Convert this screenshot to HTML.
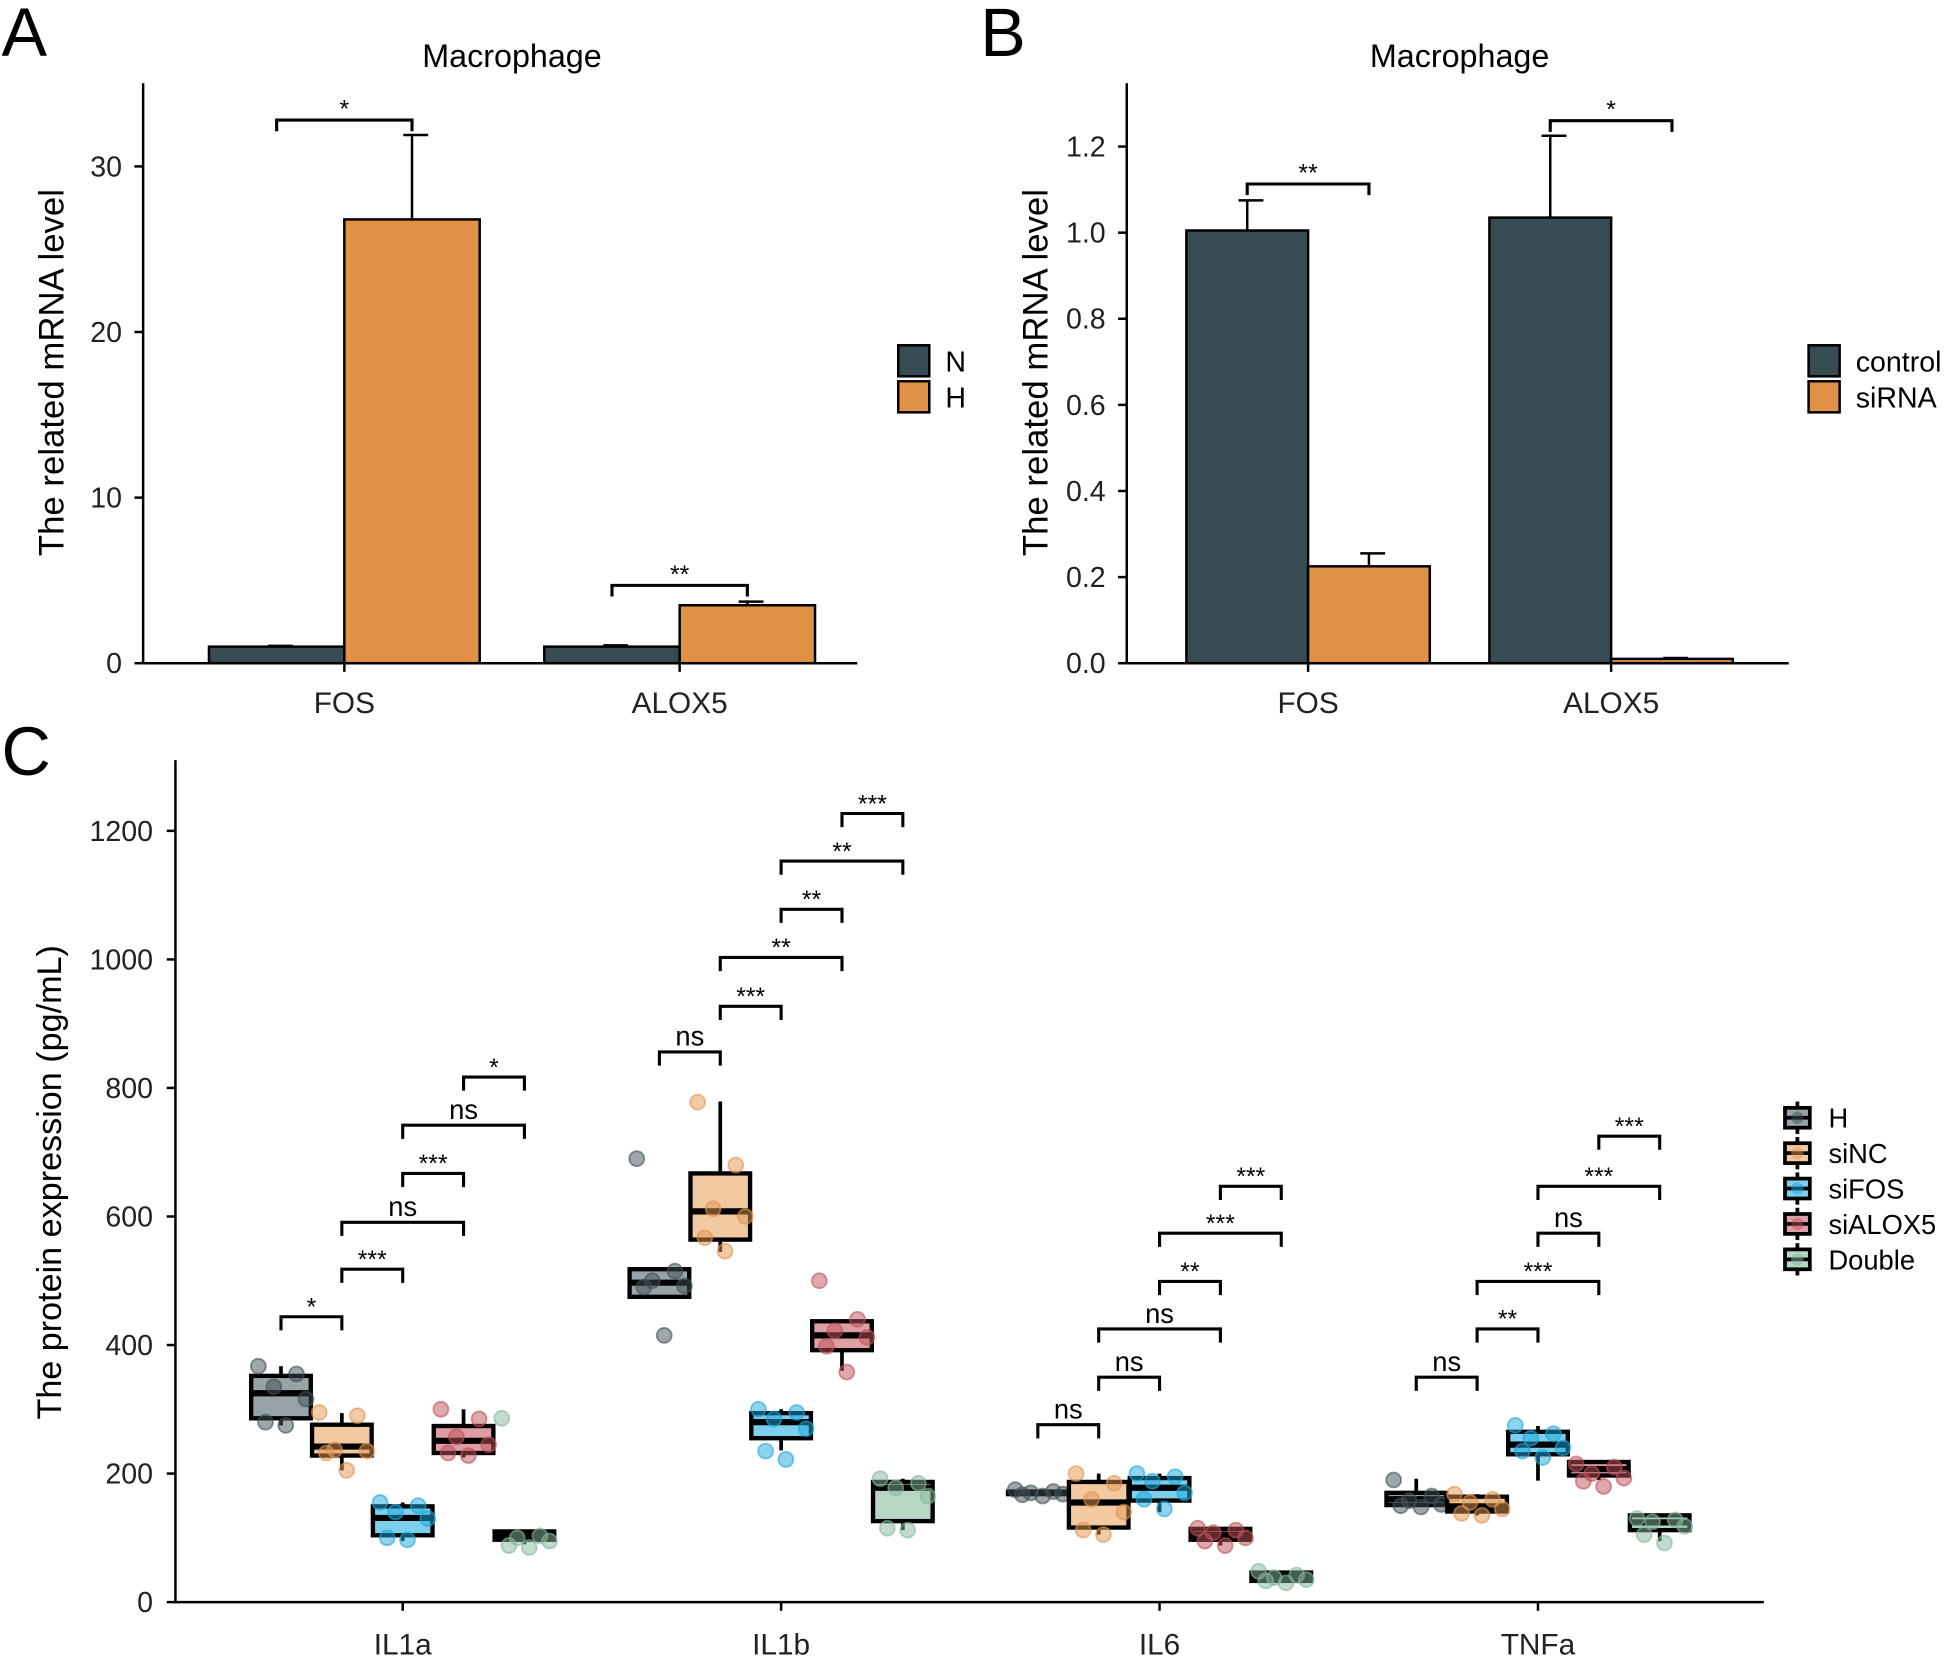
<!DOCTYPE html>
<html><head><meta charset="utf-8"><style>
html,body{margin:0;padding:0;background:#fff}
svg{display:block;font-family:"Liberation Sans",Arial,sans-serif}
</style></head><body>
<svg id="fig" width="1948" height="1658" viewBox="0 0 1568 1335" xmlns="http://www.w3.org/2000/svg">
<text x="1" y="45" font-size="55">A</text>
<text x="789" y="45" font-size="55">B</text>
<text x="1" y="624" font-size="55">C</text>
</svg>
<script>
const NS="http://www.w3.org/2000/svg";
const svg=document.getElementById('fig');
function el(tag,attrs,parent){const e=document.createElementNS(NS,tag);for(const k in attrs)e.setAttribute(k,attrs[k]);(parent||svg).appendChild(e);return e;}

// ---------- Panel A data ----------
const aCats=["FOS","ALOX5"];
const aSeries=["N","H"];
const aN=[1.0,1.0];
const aH=[26.8,3.5];
const aNerr=[1.05,1.08];
const aHerr=[31.9,3.72];
const aTicks=[0,10,20,30];
const aSig=[{c:0,y:32.8,l:"*"},{c:1,y:4.7,l:"**"}];
// ---------- Panel B data ----------
const bCats=["FOS","ALOX5"];
const bSeries=["control","siRNA"];
const bCtrl=[1.005,1.035];
const bSi=[0.225,0.01];
const bCtrlErr=[1.075,1.225];
const bSiErr=[0.255,0.012];
const bTicks=[0.0,0.2,0.4,0.6,0.8,1.0,1.2];
const bSig=[{c:0,y:1.113,l:"**"},{c:1,y:1.26,l:"*"}];
// ---------- Panel C data ----------
const cCats=["IL1a","IL1b","IL6","TNFa"];
const cGroups=["H","siNC","siFOS","siALOX5","Double"];
const cTicks=[0,200,400,600,800,1000,1200];
const cQ1=[[286,228,104,232,97],[475,564,255,392,126],[168,116,158,97,33],[151,141,230,197,112]];
const cMed=[[325,242,131,251,104],[497,608,280,415,178],[170,155,178,105,39],[160,149,245,207,124]];
const cQ3=[[352,276,149,274,110],[518,667,294,437,187],[172,187,193,114,46],[170,164,265,218,135]];
const cLo=[[275,205,95,225,90],[475,545,236,360,112],[166,105,140,88,30],[150,135,189,190,95]];
const cHi=[[367,294,155,300,110],[518,779,300,440,192],[175,200,200,115,48],[192,168,274,215,135]];
const cPts=[
 [[367,355,335,316,280,275],[295,290,237,235,232,205],[155,150,140,130,100,97],[300,285,257,245,232,228],[286,103,100,95,88,85]],
 [[690,515,500,492,490,415],[778,680,612,600,567,546],[300,295,285,270,235,222],[500,440,422,412,398,358],[192,185,178,165,115,112]],
 [[175,172,170,168,167,165],[200,185,160,140,112,105],[200,195,188,170,160,145],[115,112,108,100,95,88],[48,42,38,35,33,30]],
 [[190,165,158,152,150,148],[168,160,155,145,138,135],[275,262,255,240,235,225],[215,210,200,193,188,180],[130,128,125,118,105,92]]];
const cSig=[
 [[0,1,444,"*"],[1,2,518,"***"],[1,3,591,"ns"],[2,3,667,"***"],[2,4,742,"ns"],[3,4,817,"*"]],
 [[0,1,856,"ns"],[1,2,927,"***"],[1,3,1003,"**"],[2,3,1078,"**"],[2,4,1153,"**"],[3,4,1227,"***"]],
 [[0,1,276,"ns"],[1,2,350,"ns"],[1,3,425,"ns"],[2,3,499,"**"],[2,4,574,"***"],[3,4,647,"***"]],
 [[0,1,350,"ns"],[1,2,425,"**"],[1,3,499,"***"],[2,3,574,"ns"],[2,4,647,"***"],[3,4,725,"***"]]];

const dark="#374c52", orange="#e09145";

function barPanel(opt){
  const {x0,x1,y0,ytop,ymax,ticks,cats,v1,v2,e1,e2,sig,fmt,centers,bw,title,tx,legX,labels,key}=opt;
  const yS=v=>y0-(v/ymax)*(y0-ytop);
  const g=el('g',{});
  
  
  const t=el('text',{x:tx,y:54,'font-size':26,'text-anchor':'middle'},g);t.textContent=title;
  
  const ya=el('line',{x1:x0,y1:67,x2:x0,y2:y0+1,stroke:'#000','stroke-width':2},g);
  
  const xa=el('line',{x1:x0-1,y1:y0,x2:x1,y2:y0,stroke:'#000','stroke-width':2},g);
  
  ticks.forEach(v=>{
    el('line',{x1:x0-7,x2:x0,y1:yS(v),y2:yS(v),stroke:'#000','stroke-width':2},g);
    const tl=el('text',{x:x0-17,y:yS(v)+8,'font-size':23,'text-anchor':'end',fill:'#222'},g);tl.textContent=fmt(v);
    
  });
  const yl=el('text',{x:0,y:0,'font-size':28,'text-anchor':'middle',transform:`translate(${x0-64},300) rotate(-90)`},g);
  yl.textContent="The related mRNA level";
  
  cats.forEach((c,i)=>{
    const cx=centers[i];
    el('line',{x1:cx,x2:cx,y1:y0,y2:y0+7,stroke:'#000','stroke-width':2},g);
    const cl=el('text',{x:cx,y:y0+40,'font-size':24,'text-anchor':'middle',fill:'#222'},g);cl.textContent=c;
    
    [[v1,e1,dark,cx-bw,labels[0]],[v2,e2,orange,cx,labels[1]]].forEach(([vals,errs,col,bx,lab])=>{
      const ey=yS(errs[i]);
      el('line',{x1:bx+bw/2,x2:bx+bw/2,y1:ey,y2:yS(vals[i]),stroke:'#000','stroke-width':2},g);
      el('line',{x1:bx+bw/2-7,x2:bx+bw/2+13,y1:ey,y2:ey,stroke:'#000','stroke-width':2},g);
      const r=el('rect',{x:bx,y:yS(vals[i]),width:bw,height:y0-yS(vals[i]),fill:col,stroke:'#000','stroke-width':2},g);
      
      
    });
  });
  sig.forEach(s=>{
    const cx=centers[s.c], a=cx-bw/2, b=cx+bw/2, y=yS(s.y);
    const p=el('path',{d:`M${a},${y+9}V${y}H${b}V${y+9}`,fill:'none',stroke:'#000','stroke-width':2.5},g);
    
    const st=el('text',{x:(a+b)/2,y:y-2,'font-size':20,'text-anchor':'middle'},g);st.textContent=s.l;
    
  });
  labels.forEach((lab,i)=>{
    const ly=278+i*29;
    const r=el('rect',{x:legX,y:ly,width:25,height:25,fill:i?orange:dark,stroke:'#000','stroke-width':2},g);
    
    const lt=el('text',{x:legX+38,y:ly+21,'font-size':23},g);lt.textContent=lab;
    
  });
}
barPanel({key:'panel-a',x0:115,x1:690,y0:534,ytop:134,ymax:30,ticks:aTicks,cats:aCats,v1:aN,v2:aH,e1:aNerr,e2:aHerr,sig:aSig,fmt:v=>String(v),centers:[277,547],bw:109,title:"Macrophage",tx:412,legX:723,labels:aSeries});
barPanel({key:'panel-b',x0:907,x1:1440,y0:534,ytop:118,ymax:1.2,ticks:bTicks,cats:bCats,v1:bCtrl,v2:bSi,e1:bCtrlErr,e2:bSiErr,sig:bSig,fmt:v=>v.toFixed(1),centers:[1053,1297],bw:98,title:"Macrophage",tx:1175,legX:1456,labels:bSeries});

// ---------- Panel C ----------
const cx0=141,cx1=1420,cy0=1290,cyTop=669,cyMax=1200;
const yC=v=>cy0-(v/cyMax)*(cy0-cyTop);
const catX=i=>324+i*304.7;
const dodge=49, bw=48;
const grpX=(c,g)=>catX(c)+(g-2)*dodge;
const edge=["#3f5056","#e3954f","#1fa8dc","#c0525a","#86b79b"];
const fillC=["#97a3a6","#f2c9a0","#7dcfee","#dd9ea4","#b6d7c4"];
const jit=[-0.38,0.26,-0.12,0.42,-0.26,0.08];
const gC=el('g',{});


const cya=el('line',{x1:cx0,y1:612,x2:cx0,y2:cy0+1,stroke:'#000','stroke-width':2},gC);


const cxa=el('line',{x1:cx0-1,y1:cy0,x2:cx1,y2:cy0,stroke:'#000','stroke-width':2},gC);


cTicks.forEach(v=>{
  el('line',{x1:cx0-7,x2:cx0,y1:yC(v),y2:yC(v),stroke:'#000','stroke-width':2},gC);
  const tl=el('text',{x:cx0-18,y:yC(v)+8,'font-size':23,'text-anchor':'end',fill:'#222'},gC);tl.textContent=v;
  
  
});
const cyl=el('text',{x:0,y:0,'font-size':27.5,'text-anchor':'middle',transform:`translate(49,952) rotate(-90)`},gC);
cyl.textContent="The protein expression (pg/mL)";


cCats.forEach((c,ci)=>{
  const x=catX(ci);
  el('line',{x1:x,x2:x,y1:cy0,y2:cy0+7,stroke:'#000','stroke-width':2},gC);
  const cl=el('text',{x:x,y:cy0+42,'font-size':24,'text-anchor':'middle',fill:'#222'},gC);cl.textContent=c;
  
  
  cGroups.forEach((gname,gi)=>{
    const gx=grpX(ci,gi);
    const bg=el('g',{},gC);
    
    
    el('line',{x1:gx,x2:gx,y1:yC(cHi[ci][gi]),y2:yC(cLo[ci][gi]),stroke:'#000','stroke-width':3},bg);
    el('rect',{x:gx-bw/2,y:yC(cQ3[ci][gi]),width:bw,height:Math.max(2,yC(cQ1[ci][gi])-yC(cQ3[ci][gi])),fill:fillC[gi],stroke:'#000','stroke-width':3.5},bg);
    el('line',{x1:gx-bw/2,x2:gx+bw/2,y1:yC(cMed[ci][gi]),y2:yC(cMed[ci][gi]),stroke:'#000','stroke-width':5},bg);
    cPts[ci][gi].forEach((v,k)=>{
      const p=el('circle',{cx:gx+jit[k]*bw,cy:yC(v),r:6,fill:edge[gi],'fill-opacity':0.5,stroke:edge[gi],'stroke-opacity':0.6,'stroke-width':1.5},gC);
      
      
    });
  });
  cSig[ci].forEach(s=>{
    const a=grpX(ci,s[0]),b=grpX(ci,s[1]),y=yC(s[2]);
    const p=el('path',{d:`M${a},${y+11}V${y}H${b}V${y+11}`,fill:'none',stroke:'#000','stroke-width':2.5},gC);
    
    
    const ns=s[3]==="ns";
    const st=el('text',{x:(a+b)/2,y:y-(ns?5:1),'font-size':ns?22:20,'text-anchor':'middle'},gC);st.textContent=s[3];
    
    
  });
});
cGroups.forEach((gname,gi)=>{
  const ly=900+gi*28.5, lx=1447;
  const lg=el('g',{},gC);
  
  
  el('line',{x1:lx,x2:lx,y1:ly-13,y2:ly+13,stroke:'#000','stroke-width':3},lg);
  el('rect',{x:lx-10,y:ly-8,width:20,height:16,fill:fillC[gi],stroke:'#000','stroke-width':3},lg);
  el('line',{x1:lx-10,x2:lx+10,y1:ly,y2:ly,stroke:'#000','stroke-width':3},lg);
  el('circle',{cx:lx,cy:ly,r:5,fill:edge[gi],'fill-opacity':0.5},lg);
  const lt=el('text',{x:1472,y:ly+8,'font-size':22},lg);lt.textContent=gname;
});
</script>
</body></html>
